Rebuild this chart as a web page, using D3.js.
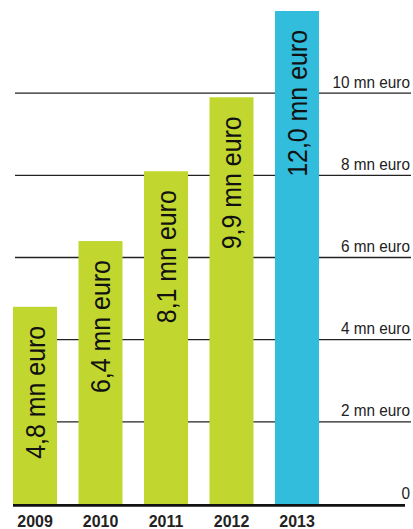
<!DOCTYPE html>
<html>
<head>
<meta charset="utf-8">
<script src="https://cdn.jsdelivr.net/npm/d3@7"></script>
<style>
  body { margin: 0; background: #fff; }
  svg { display: block; }
  text { font-family: "Liberation Sans", Arial, sans-serif; }
</style>
</head>
<body>
<div id="chart"></div>
<script>
var years = ["2009", "2010", "2011", "2012", "2013"];
var values = [4.8, 6.4, 8.1, 9.9, 12.0];
var barLabels = ["4,8 mn euro", "6,4 mn euro", "8,1 mn euro", "9,9 mn euro", "12,0 mn euro"];
var tickValues = [0, 2, 4, 6, 8, 10];
var tickLabels = ["0", "2 mn euro", "4 mn euro", "6 mn euro", "8 mn euro", "10 mn euro"];

var width = 413, height = 529;
var green = "#c1d72f", blue = "#31bddb";

var svg = d3.select("#chart")
  .append("svg")
    .attr("width", width)
    .attr("height", height);

var x = d3.scaleBand()
  .domain(years)
  .range([2.25, 329.75])
  .paddingInner(0.328)
  .paddingOuter(0.164);

var y = d3.scaleLinear()
  .domain([0, 12])
  .range([504, 11]);

// gridlines (not the zero line)
svg.append("g")
  .selectAll("line")
  .data(tickValues.filter(function(d) { return d > 0; }))
  .enter().append("line")
    .attr("x1", 15)
    .attr("x2", 411)
    .attr("y1", function(d) { return y(d); })
    .attr("y2", function(d) { return y(d); })
    .attr("stroke", "#222")
    .attr("stroke-width", 1.3);

// tick labels, right aligned above each line (condensed by scaling)
svg.append("g")
  .selectAll("text")
  .data(tickValues)
  .enter().append("text")
    .attr("transform", function(d) {
      return "translate(410," + (y(d) - 5.5) + ") scale(0.93,1)";
    })
    .attr("text-anchor", "end")
    .attr("font-size", 16.5)
    .attr("fill", "#222")
    .text(function(d, i) { return tickLabels[i]; });

// bars
svg.append("g")
  .selectAll("rect")
  .data(values)
  .enter().append("rect")
    .attr("x", function(d, i) { return x(years[i]); })
    .attr("y", function(d) { return y(d); })
    .attr("width", x.bandwidth())
    .attr("height", function(d) { return y(0) - y(d); })
    .attr("fill", function(d, i) { return i == years.length - 1 ? blue : green; });

// value labels inside bars, rotated
svg.append("g")
  .selectAll("text")
  .data(values)
  .enter().append("text")
    .attr("transform", function(d, i) {
      var cx = x(years[i]) + x.bandwidth() / 2 + 9.5;
      return "translate(" + cx + "," + (y(d) + 19) + ") rotate(-90) scale(0.89,1)";
    })
    .attr("text-anchor", "end")
    .attr("font-size", 28)
    .attr("fill", "#111")
    .text(function(d, i) { return barLabels[i]; });

// baseline
svg.append("line")
  .attr("x1", 13)
  .attr("x2", 405)
  .attr("y1", y(0) + 1.35)
  .attr("y2", y(0) + 1.35)
  .attr("stroke", "#111")
  .attr("stroke-width", 2.7);

// year labels
svg.append("g")
  .selectAll("text")
  .data(years)
  .enter().append("text")
    .attr("transform", function(d) {
      return "translate(" + (x(d) + x.bandwidth() / 2) + ",526.5) scale(0.94,1)";
    })
    .attr("text-anchor", "middle")
    .attr("font-size", 17)
    .attr("font-weight", "bold")
    .attr("fill", "#222")
    .text(function(d) { return d; });
</script>
</body>
</html>
